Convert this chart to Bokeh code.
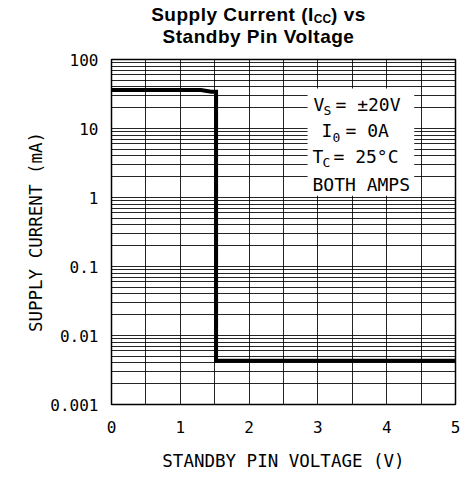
from bokeh.plotting import figure
from bokeh.models import FixedTicker, Range1d, Label, BoxAnnotation, Div
from bokeh.layouts import column
from bokeh.embed import file_html
from bokeh.resources import INLINE

# ---- data ----
voltage = [0.0, 1.30, 1.45, 1.52, 1.52, 5.0]          # V
current = [36.0, 36.0, 34.0, 34.0, 0.0043, 0.0043]    # mA

x_ticks = [0, 1, 2, 3, 4, 5]
x_minor = [0.5, 1.5, 2.5, 3.5, 4.5]
y_ticks = [0.001, 0.01, 0.1, 1, 10, 100]
y_tick_labels = ["0.001", "0.01", "0.1", "1", "10", "100"]
y_minor = [m * d for d in [0.001, 0.01, 0.1, 1, 10] for m in range(2, 10)]

MONO = "DejaVu Sans Mono"

TITLE_H = 48
title = Div(width=460, height=TITLE_H, margin=0, text=(
    '<div style="margin-left:63px;width:391px;text-align:center;'
    "font-family:'Liberation Sans',Arial,sans-serif;font-weight:bold;"
    'font-size:19px;line-height:22px;letter-spacing:0.5px;padding-top:4px;color:black;">'
    'Supply Current (I<sub style="font-size:12px;line-height:0;letter-spacing:0;'
    'vertical-align:-2px;">CC</sub>) vs<br>Standby Pin Voltage</div>'))

p = figure(width=460, height=480 - TITLE_H, output_backend="svg", toolbar_location=None,
           y_axis_type="log", x_range=Range1d(0, 5), y_range=Range1d(0.001, 100),
           title=None, min_border_left=111, min_border_right=5,
           min_border_top=59 - TITLE_H, min_border_bottom=76, margin=0)
p.background_fill_color = "white"
p.border_fill_color = "white"
p.outline_line_color = "black"
p.outline_line_width = 1.5

p.xaxis.ticker = FixedTicker(ticks=x_ticks, minor_ticks=x_minor)
p.yaxis.ticker = FixedTicker(ticks=y_ticks, minor_ticks=y_minor)
p.yaxis.major_label_overrides = {t: l for t, l in zip(y_ticks, y_tick_labels)}

for ax in (p.xaxis, p.yaxis):
    ax.major_tick_in = 0
    ax.major_tick_out = 0
    ax.minor_tick_in = 0
    ax.minor_tick_out = 0
    ax.axis_line_color = None
    ax.major_label_text_font = MONO
    ax.major_label_text_font_size = "16px"
    ax.major_label_text_color = "black"
    ax.axis_label_text_font = MONO
    ax.axis_label_text_font_size = "17.5px"
    ax.axis_label_text_font_style = "normal"
    ax.axis_label_text_color = "black"

p.xaxis.axis_label = "STANDBY PIN VOLTAGE (V)"
p.yaxis.axis_label = "SUPPLY CURRENT (mA)"
p.xaxis.major_label_standoff = 16
p.yaxis.major_label_standoff = 13
p.xaxis.axis_label_standoff = 15
p.yaxis.axis_label_standoff = 1

for g in (p.xgrid, p.ygrid):
    g.grid_line_color = "black"
    g.grid_line_alpha = 0.85
    g.grid_line_width = 1
    g.minor_grid_line_color = "black"
    g.minor_grid_line_alpha = 0.85
    g.minor_grid_line_width = 1

p.line(voltage, current, line_color="black", line_width=4, line_join="miter")

# conditions box
p.add_layout(BoxAnnotation(left=2.85, right=4.40, bottom=1.06, top=38,
                           fill_color="white", fill_alpha=1.0, line_color=None))

def lab(txt, sx, sy, size):
    p.add_layout(Label(x=sx, y=sy, x_units="screen", y_units="screen", text=txt,
                       text_font=MONO, text_font_size=size,
                       text_align="left", text_baseline="alphabetic",
                       text_color="black"))

# box text (screen offsets from the frame's bottom-left corner)
lab("V", 202, 300, "18px")
lab("S", 212, 294, "13px")
lab("= \u00b120V", 224, 300, "18px")
lab("I", 210, 274, "18px")
lab("0", 221, 267, "13px")
lab("= 0A", 234, 274, "18px")
lab("T", 201, 248, "18px")
lab("C", 211, 242, "13px")
lab("= 25\u00b0C", 222, 248, "18px")
lab("BOTH AMPS", 201, 220, "18px")

layout = column(title, p, spacing=0)
open("out.html", "w").write(file_html(layout, INLINE))
